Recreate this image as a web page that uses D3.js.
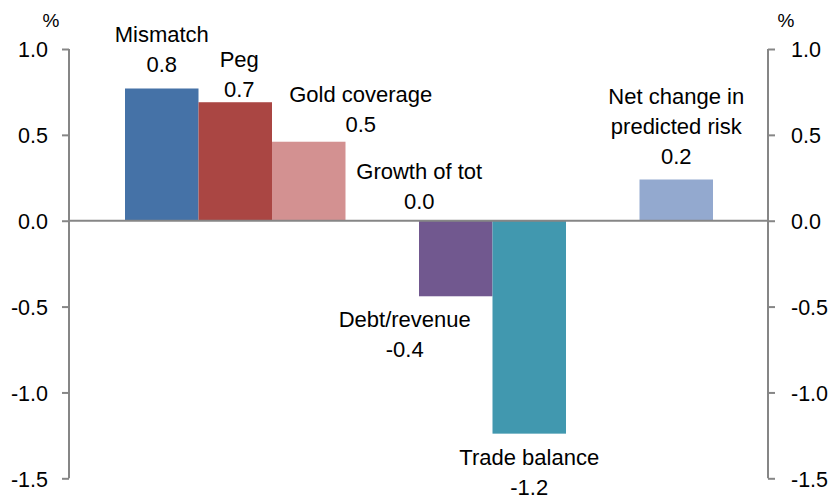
<!DOCTYPE html>
<html>
<head>
<meta charset="utf-8">
<script src="https://cdn.jsdelivr.net/npm/d3@7"></script>
<style>
  body { margin: 0; background: #fff; }
  text { font-family: "Liberation Sans", Arial, sans-serif; fill: #000; }
  .axis path, .axis line { stroke: #868686; stroke-width: 2; }
  .axis text { font-size: 21.5px; }
</style>
</head>
<body>
<div class="chart"></div>
<script>
// contributions to the change in predicted risk, %
const categories = ["Mismatch", "Peg", "Gold coverage", "Growth of tot", "Debt/revenue", "Trade balance", "", "Net change in\npredicted risk"]
const values = [0.77, 0.69, 0.46, 0.0, -0.44, -1.24, null, 0.24]
const colors = ["#4572a7", "#aa4643", "#d39191", "#93a9cf", "#71588f", "#4198af", "#ffffff", "#93a9cf"]
const yTicks = [-1.5, -1.0, -0.5, 0.0, 0.5, 1.0]

// label nudges (px) from the bar centre / bar end, as placed in the original
const labelDx = [0, 4, 52, 37, -51, 0, 0, 0]
const labelDy = [-16, -5.5, -10, -12, 30.5, 31, 0, -16]

const width = 831, height = 499
const plot = {left: 69, right: 768, top: 49, bottom: 478.3}

const svg = d3.select(".chart").append("svg")
    .attr("width", width)
    .attr("height", height)

const x = d3.scaleBand()
    .domain(d3.range(categories.length))
    .range([125, 713])
    .padding(0)

const y = d3.scaleLinear()
    .domain([-1.5, 1.0])
    .range([plot.bottom, plot.top])

// plain hyphen for negatives, like the original
const fmt = d3.formatLocale({decimal: ".", thousands: ",", grouping: [3], currency: ["", ""], minus: "-"}).format(".1f")

// axes
const yLeft = d3.axisLeft(y).tickValues(yTicks).tickFormat(fmt).tickSize(7).tickPadding(14)
const yRight = d3.axisRight(y).tickValues(yTicks).tickFormat(fmt).tickSize(7).tickPadding(16)

svg.append("g")
    .attr("class", "axis")
    .attr("transform", "translate(" + plot.left + ",0)")
    .call(yLeft)
    .call(g => g.select(".domain").attr("d", "M0," + y(-1.5) + "V" + y(1.0)))
    .call(g => g.selectAll("text").attr("dy", "0.36em"))

svg.append("g")
    .attr("class", "axis")
    .attr("transform", "translate(" + plot.right + ",0)")
    .call(yRight)
    .call(g => g.select(".domain").attr("d", "M0," + y(-1.5) + "V" + y(1.0)))
    .call(g => g.selectAll("text").attr("dy", "0.36em"))

svg.append("text")
    .attr("x", 51).attr("y", 27)
    .attr("text-anchor", "middle")
    .style("font-size", "19px")
    .text("%")

svg.append("text")
    .attr("x", 786).attr("y", 27)
    .attr("text-anchor", "middle")
    .style("font-size", "19px")
    .text("%")

const data = categories.map(function(c, i) {
    return {i: i, name: c, value: values[i], color: colors[i]}
}).filter(function(d) { return d.value !== null })

// bars
svg.selectAll(".bar")
    .data(data)
  .enter().append("rect")
    .attr("class", "bar")
    .attr("x", function(d) { return x(d.i) })
    .attr("width", x.bandwidth())
    .attr("y", function(d) { return y(Math.max(0, d.value)) })
    .attr("height", function(d) { return Math.abs(y(d.value) - y(0)) })
    .style("fill", function(d) { return d.color })

// zero line
svg.append("line")
    .attr("x1", plot.left).attr("x2", plot.right)
    .attr("y1", y(0)).attr("y2", y(0))
    .style("stroke", "#868686")
    .style("stroke-width", 2)

// labels: name lines then value
const lineH = 30
const labels = svg.selectAll(".label")
    .data(data)
  .enter().append("text")
    .attr("class", "label")
    .attr("text-anchor", "middle")
    .style("font-size", "22px")

labels.each(function(d) {
    const lines = d.name.split("\n").concat([fmt(d.value)])
    const cx = x(d.i) + x.bandwidth() / 2 + labelDx[d.i]
    // above the bar: last line sits at the offset; below: first line does
    const y0 = d.value >= 0
        ? y(d.value) + labelDy[d.i] - (lines.length - 1) * lineH
        : y(d.value) + labelDy[d.i]
    d3.select(this).selectAll("tspan")
        .data(lines)
      .enter().append("tspan")
        .attr("x", cx)
        .attr("y", function(l, k) { return y0 + k * lineH })
        .text(function(l) { return l })
})
</script>
</body>
</html>
